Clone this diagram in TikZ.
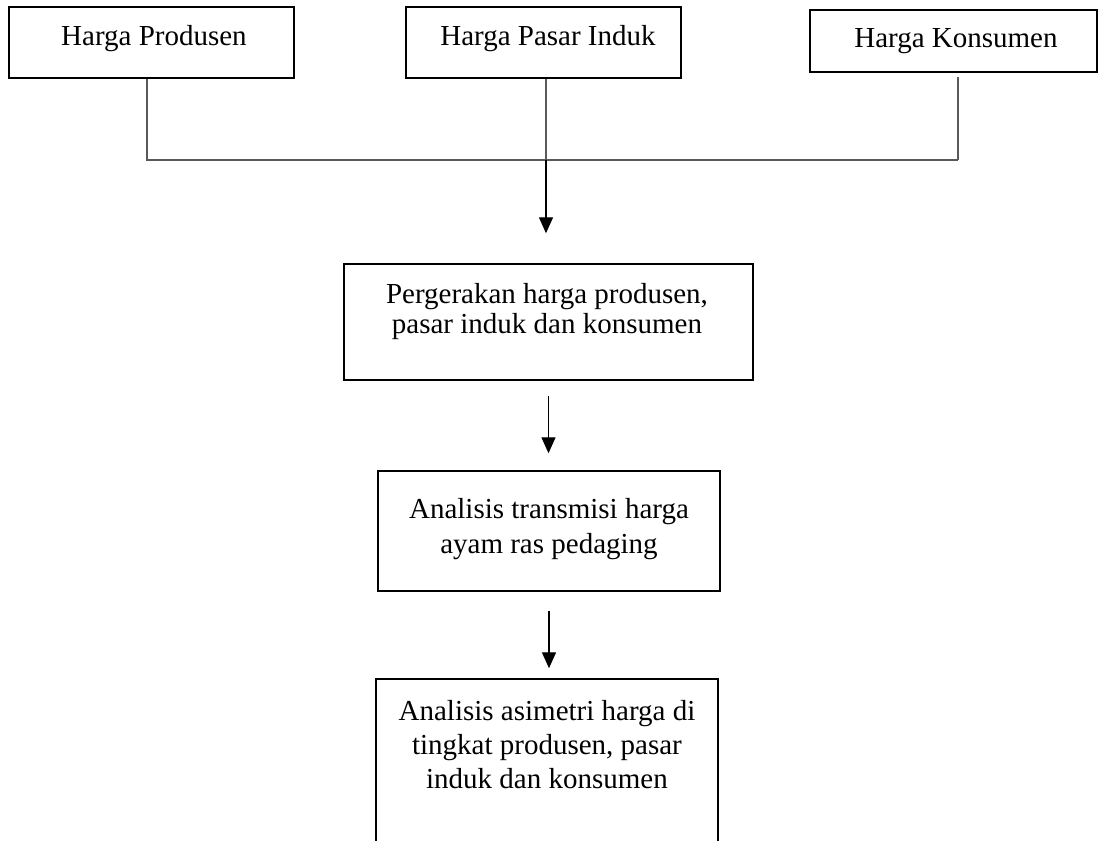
\documentclass[tikz,border=0pt]{standalone}
\usepackage{fontspec}
\setmainfont{Liberation Serif}
\usetikzlibrary{arrows.meta}
\begin{document}
\begin{tikzpicture}[x=0.75pt,y=-0.75pt,
  box/.style={draw=black,line width=1.1pt,inner sep=0pt},
  lbl/.style={inner sep=0pt,anchor=north,align=center},
  conn/.style={draw=black!65,line width=0.9pt},
  arr/.style={draw=black,line width=1.1pt,-{Triangle[width=10.5pt,length=12pt]}}]
\clip (0,0) rectangle (1101,841);
\fill[white] (0,0) rectangle (1101,841);
% boxes
\node[box,minimum width=213.75pt,minimum height=53.25pt] (b1) at (151.5,42.5) {};
\node[box,minimum width=206.25pt,minimum height=53.25pt] (b2) at (543.5,42.5) {};
\node[box,minimum width=215.25pt,minimum height=46.5pt] (b3) at (953.5,41) {};
\node[box,minimum width=306.75pt,minimum height=87pt] (b4) at (548.5,322) {};
\node[box,minimum width=256.5pt,minimum height=90pt] (b5) at (549,531) {};
\node[box,minimum width=256.5pt,minimum height=135.75pt] (b6) at (547,769.5) {};
% texts
\node[lbl,font=\fontsize{21.75}{22.5}\selectfont] (t1) at (154,25) {Harga Produsen};
\node[lbl,font=\fontsize{21.75}{22.5}\selectfont] (t2) at (548,25) {Harga Pasar Induk};
\node[lbl,font=\fontsize{21.75}{22.5}\selectfont] (t3) at (956,28) {Harga Konsumen};
\node[lbl,font=\fontsize{21.75}{22.5}\selectfont] (t4) at (547,283) {Pergerakan harga produsen,\\pasar induk dan konsumen};
\node[lbl,font=\fontsize{21.75}{26.25}\selectfont] (t5) at (549,498) {Analisis transmisi harga\\ayam ras pedaging};
\node[lbl,font=\fontsize{21.75}{25.5}\selectfont] (t6) at (547,700) {Analisis asimetri harga di\\tingkat produsen, pasar\\induk dan konsumen};
% connectors
\coordinate (j1) at (147,160);
\coordinate (j2) at (546,160);
\coordinate (j3) at (958,160);
\draw[conn] (b1.south -| j1) -- (j1) -- (j3);
\draw[conn] (j3) -- ([yshift=-3pt]b3.south -| j3);
\draw[conn] (b2.south -| j2) -- (j2);
\draw[arr] (j2) -- ([yshift=22.5pt]b4.north -| j2);
\draw[arr] ([yshift=-11.25pt]b4.south) -- ([yshift=12.75pt]b4.south |- b5.north);
\draw[arr] ([yshift=-14.25pt]b5.south) -- ([yshift=7.5pt]b5.south |- b6.north);
\end{tikzpicture}
\end{document}
